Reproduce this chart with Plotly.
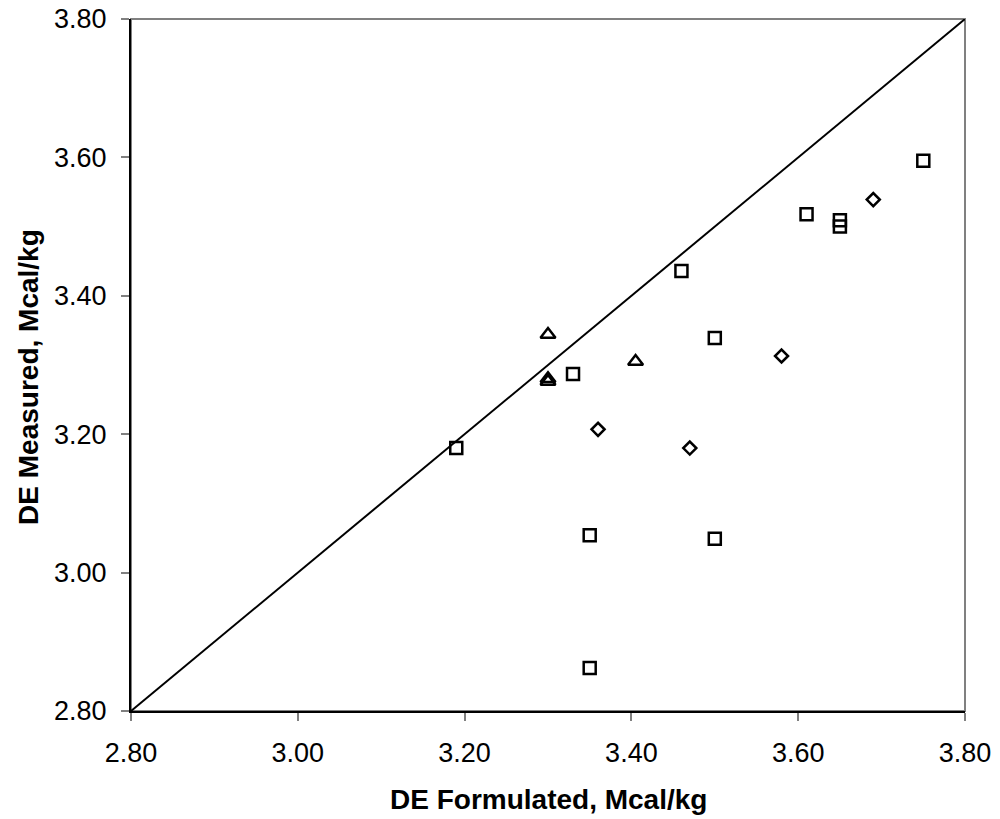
import plotly.graph_objects as go

# Data
sq_x = [3.19, 3.33, 3.46, 3.50, 3.35, 3.50, 3.35, 3.61, 3.65, 3.65, 3.75]
sq_y = [3.180, 3.287, 3.436, 3.339, 3.054, 3.049, 2.862, 3.518, 3.509, 3.500, 3.595]

dia_x = [3.36, 3.47, 3.58, 3.69]
dia_y = [3.207, 3.180, 3.313, 3.539]

tri_x = [3.30, 3.30, 3.30, 3.405]
tri_y = [3.344, 3.280, 3.276, 3.305]

line_x = [2.80, 3.80]
line_y = [2.80, 3.80]

tick_vals = [2.80, 3.00, 3.20, 3.40, 3.60, 3.80]
tick_text = ["2.80", "3.00", "3.20", "3.40", "3.60", "3.80"]

x_title = "DE Formulated, Mcal/kg"
y_title = "DE Measured, Mcal/kg"

FONT = "Liberation Sans, Arial, sans-serif"

fig = go.Figure()
fig.add_trace(go.Scatter(x=line_x, y=line_y, mode="lines",
                         line=dict(color="black", width=2), showlegend=False, hoverinfo="skip"))
fig.add_trace(go.Scatter(x=sq_x, y=sq_y, mode="markers", showlegend=False,
                         marker=dict(symbol="square-open", size=12, color="black",
                                     line=dict(color="black", width=2.5))))
fig.add_trace(go.Scatter(x=dia_x, y=dia_y, mode="markers", showlegend=False,
                         marker=dict(symbol="diamond-open", size=10, color="black",
                                     line=dict(color="black", width=2.5))))
fig.add_trace(go.Scatter(x=tri_x, y=tri_y, mode="markers", showlegend=False,
                         marker=dict(symbol="triangle-up-open", size=13, color="black",
                                     line=dict(color="black", width=2.5))))

axis_common = dict(
    tickvals=tick_vals, ticktext=tick_text, range=[2.80, 3.80],
    showgrid=False, zeroline=False, showline=True, linecolor="black", linewidth=2,
    ticks="outside", ticklen=8, tickwidth=1.5, tickcolor="#808080",
    tickfont=dict(family=FONT, size=27, color="black"),
    automargin=False,
)

fig.update_xaxes(**axis_common, ticklabelstandoff=9)
fig.update_yaxes(**axis_common, ticklabelstandoff=9)

fig.add_shape(type="rect", xref="paper", yref="paper", x0=0, y0=0, x1=1, y1=1,
              line=dict(color="#808080", width=2), layer="below")

fig.add_annotation(text="<b>" + x_title + "</b>", xref="paper", yref="paper",
                   x=0.5, y=-0.1286, xanchor="center", yanchor="middle", showarrow=False,
                   font=dict(family=FONT, size=28, color="black"))
fig.add_annotation(text="<b>" + y_title + "</b>", xref="paper", yref="paper",
                   x=-0.1224, y=0.4827, xanchor="center", yanchor="middle", showarrow=False,
                   textangle=-90, font=dict(family=FONT, size=28, color="black"))

fig.update_layout(
    width=1000, height=819,
    margin=dict(l=131, r=35, t=19, b=108),
    plot_bgcolor="white", paper_bgcolor="white",
    font=dict(family=FONT, color="black"),
)

fig.write_html("out.html")
